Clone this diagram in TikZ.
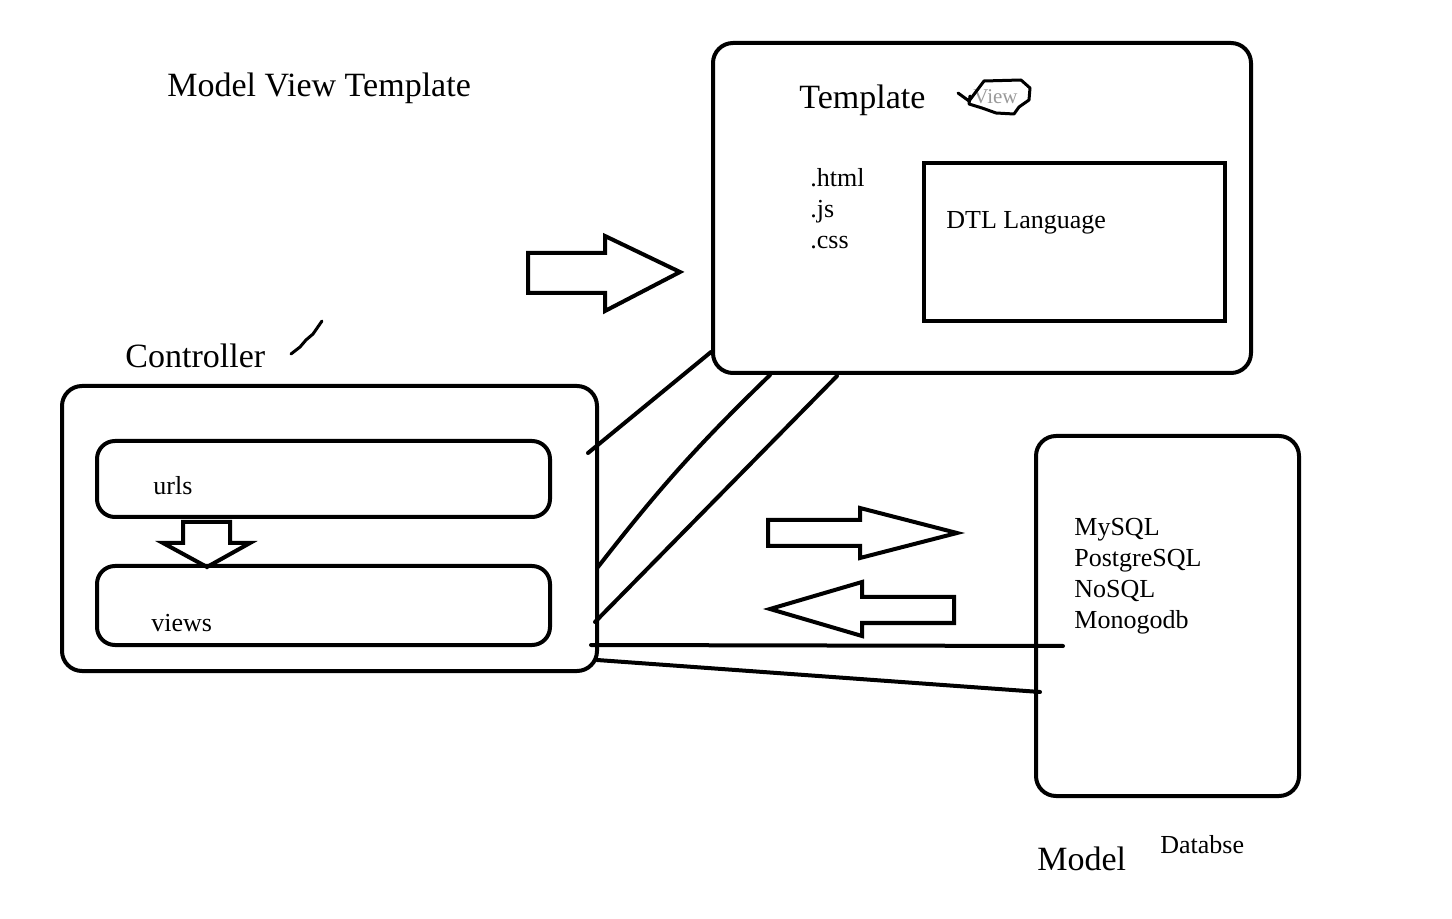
\documentclass[tikz,border=0pt]{standalone}
\usepackage{fontspec}
\setmainfont{Liberation Serif}
\usetikzlibrary{positioning}

\begin{document}
\begin{tikzpicture}[x=0.5pt, y=-0.5pt,
        box/.style={draw, line width=2pt, rounded corners=10pt, inner sep=0pt},
        plainbox/.style={draw, line width=2pt, inner sep=0pt},
        line/.style={draw, line width=2pt, line cap=round},
        blockarrow/.style={draw, line width=2pt, line join=miter},
        heading/.style={anchor=base west, inner sep=0pt, font=\fontsize{17}{20}\selectfont},
        smalltext/.style={anchor=base west, inner sep=0pt, font=\fontsize{13}{15}\selectfont},
        entry/.style={inner sep=0pt, text height=10pt, text depth=5pt, font=\fontsize{13}{15}\selectfont},
        scribble/.style={draw, line width=1.5pt, line cap=round, line join=round}
    ]
        \useasboundingbox (0,0) rectangle (1452,919);
        % Title
        \node[heading] (title) at (167,97) {Model View Template};
        % Template box
        \node[box, minimum width=269pt, minimum height=165pt] (template) at (982,208) {};
        \node[heading] (templatename) at (799,109) {Template};
        \node[smalltext, text=gray!80] (viewword) at (973,104) {\fontsize{10.5}{12}\selectfont View};
        \draw[scribble] (958,93) -- (969,101) -- (984,81) -- (1021,80) -- (1030,88) -- (1029,100)
            -- (1019,107) -- (1014,114) -- (996,113) -- (982,108) -- (969,104) -- (970,96);
        \node[entry, anchor=base west] (html) at (810,187) {.html};
        \node[entry, below=0pt of html.south west, anchor=north west] (js) {.js};
        \node[entry, below=0pt of js.south west, anchor=north west] (css) {.css};
        \node[plainbox, minimum width=150.5pt, minimum height=79pt] (dtl) at (1074.5,242) {};
        \node[smalltext] (dtlname) at (946,229) {DTL Language};
        % Controller box
        \node[heading] (controllername) at (125,368) {Controller};
        \draw[scribble] (291,354) -- (300,347) -- (306,340) -- (313,334) -- (322,321);
        \node[box, minimum width=267.5pt, minimum height=142.5pt] (controller) at (329.5,528.5) {};
        \node[box, rounded corners=9pt, minimum width=226.5pt, minimum height=38pt] (urls) at (323.5,479) {};
        \node[smalltext] (urlsname) at (153,495) {urls};
        \node[box, rounded corners=9pt, minimum width=226.5pt, minimum height=39.5pt] (views) at (323.5,605.5) {};
        \node[smalltext] (viewsname) at (151,632) {views};
        \draw[blockarrow] (183,522) -- (230,522) -- (230,543) -- (250,543) -- (207,567)
            -- (163,543) -- (183,543) -- cycle;
        % Model box
        \node[box, minimum width=131.5pt, minimum height=180pt] (model) at (1167.5,616) {};
        \node[entry, anchor=base west] (mysql) at (1074,536) {MySQL};
        \node[entry, below=0pt of mysql.south west, anchor=north west] (postgres) {PostgreSQL};
        \node[entry, below=0pt of postgres.south west, anchor=north west] (nosql) {NoSQL};
        \node[entry, below=0pt of nosql.south west, anchor=north west] (mongo) {Monogodb};
        \node[heading] (modelname) at (1037,870) {Model};
        \node[smalltext] (dbname) at (1160,853) {Databse};
        % Block arrows
        \draw[blockarrow] (528,253) -- (605,253) -- (605,236) -- (680,272) -- (605,311)
            -- (605,293) -- (528,293) -- cycle;
        \draw[blockarrow] (768,520) -- (860,520) -- (860,508) -- (957,533) -- (860,558)
            -- (860,546) -- (768,546) -- cycle;
        \draw[blockarrow] (954,597) -- (862,597) -- (862,582) -- (770,609) -- (862,636)
            -- (862,623) -- (954,623) -- cycle;
        % Connections
        \coordinate (c1) at (588,453);
        \coordinate (c2) at (598,567);
        \coordinate (c3) at (595,622);
        \coordinate (c4) at (591,645);
        \coordinate (c5) at (597,660);
        \coordinate (t1) at (711,352);
        \coordinate (t2) at (770,375);
        \coordinate (t3) at (837,376);
        \coordinate (m1) at (1063,646);
        \coordinate (m2) at (1040,692);
        \path[line] (c1) -- (t1);
        \path[line] (c2) to[bend left=4] (t2);
        \path[line] (c3) -- (t3);
        \path[line] (c4) -- (m1);
        \path[line] (c5) -- (m2);
\end{tikzpicture}
\end{document}
